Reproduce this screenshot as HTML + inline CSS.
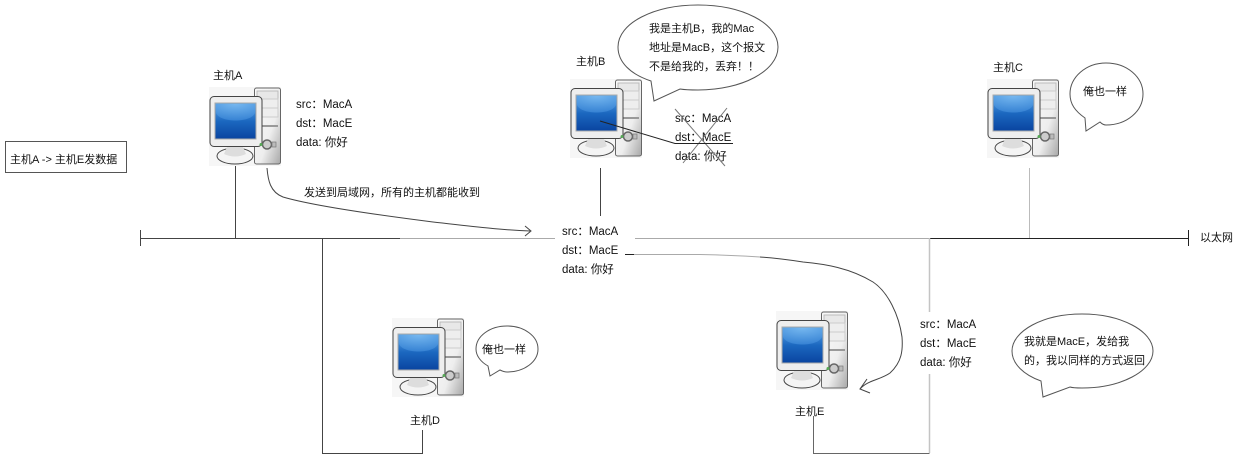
<!DOCTYPE html>
<html><head><meta charset="utf-8">
<style>
html,body{margin:0;padding:0;background:#fff}
svg{display:block}
text{font-family:"Liberation Sans","WenQuanYi Zen Hei","Noto Sans CJK SC",sans-serif;font-size:11px;fill:#111;dominant-baseline:central;transform:translateY(1px)}
text.p{font-size:11.5px}
</style></head><body>
<svg width="1234" height="462" viewBox="0 0 1234 462" xmlns="http://www.w3.org/2000/svg">
<defs>
<linearGradient id="scr" x1="0" y1="0" x2="0" y2="1"><stop offset="0" stop-color="#5fa8e8"/><stop offset=".5" stop-color="#1c68c0"/><stop offset="1" stop-color="#0a44a0"/></linearGradient>
<linearGradient id="tw" x1="0" y1="0" x2="1" y2="1"><stop offset="0" stop-color="#fafafa"/><stop offset=".6" stop-color="#eeeeee"/><stop offset="1" stop-color="#a8a8a8"/></linearGradient>
<radialGradient id="hl" cx=".5" cy="0" r="1"><stop offset="0" stop-color="#7cbcf2"/><stop offset="1" stop-color="#3c88d8"/></radialGradient>
<g id="pc">
<rect width="72" height="79" fill="#f6f6f6"/>
<rect x="45.500" y="1" width="26" height="76" rx="2" fill="url(#tw)" stroke="#666"/>
<rect x="48" y="4" width="21" height="8" fill="#e8e8e8" stroke="#bbb"/>
<rect x="48" y="12" width="21" height="9" fill="#eee" stroke="#ccc"/>
<rect x="48" y="21" width="21" height="9" fill="#eee" stroke="#ccc"/>
<rect x="48" y="38" width="21" height="2" fill="#999"/>
<ellipse cx="26" cy="69" rx="18" ry="8" fill="#f4f4f4" stroke="#444"/>
<path d="M18 60h16l3 7q-11 5-22 0z" fill="#ddd"/>
<rect x="1" y="9.500" width="52" height="50" rx="4" fill="#eee" stroke="#444"/>
<rect x="6" y="16" width="41" height="36" fill="url(#scr)" stroke="#aaa"/>
<path d="M7 17H46V26C42 36 11 36 7 26Z" fill="url(#hl)" opacity=".8"/>
<circle cx="58" cy="57.500" r="4.500" fill="#ccc" stroke="#666" stroke-width="1.500"/>
<circle cx="52" cy="57.500" r="1.500" fill="#5a5"/>
<rect x="63" y="55" width="4" height="5" fill="#bbb" stroke="#777" stroke-width=".7"/>
</g>
</defs>
<rect width="1234" height="462" fill="#fff"/>

<!-- ethernet -->
<g fill="none" stroke-width="1">
<path d="M140 238.500H400M140.500 230V246M322.500 238V453.500H422.500V430M235.500 166V238M600.500 168V216" stroke="#444"/>
<path d="M400 238.500H555M635 238.500H930" stroke="#aaa"/>
<path d="M930 238.500H1188M1188.500 230V246" stroke="#222"/>
<path d="M1029.500 168V238" stroke="#bbb"/>
<path d="M813.500 416V453.500H929.500" stroke="#666"/>
<path d="M929.500 238V312M929.500 374V453" stroke="#c4c4c4" stroke-width="1.500"/>
</g>

<!-- computers -->
<use href="#pc" x="209" y="87"/>
<use href="#pc" x="570" y="79"/>
<use href="#pc" x="987" y="79"/>
<use href="#pc" x="392" y="318"/>
<use href="#pc" x="776" y="311"/>

<!-- labels -->
<text x="213" y="75">主机A</text>
<text x="576" y="61">主机B</text>
<text x="993" y="67">主机C</text>
<text x="410" y="420">主机D</text>
<text x="795" y="411">主机E</text>
<text x="1200" y="237">以太网</text>
<text x="304" y="192">发送到局域网，所有的主机都能收到</text>

<rect x="5.500" y="141.500" width="121" height="31" fill="#fff" stroke="#555"/>
<text x="10" y="159">主机A -&gt; 主机E发数据</text>

<!-- packets -->
<text class="p" x="296" y="104">src：MacA</text><text class="p" x="296" y="123">dst：MacE</text><text class="p" x="296" y="142">data: 你好</text>
<text class="p" x="675" y="118">src：MacA</text><text class="p" x="675" y="137">dst：MacE</text><text class="p" x="675" y="156">data: 你好</text>
<text class="p" x="562" y="231">src：MacA</text><text class="p" x="562" y="250">dst：MacE</text><text class="p" x="562" y="269">data: 你好</text>
<text class="p" x="920" y="324">src：MacA</text><text class="p" x="920" y="343">dst：MacE</text><text class="p" x="920" y="362">data: 你好</text>

<!-- B cross -->
<g fill="none" stroke-width="1">
<path d="M675 109L725 166M727 108L683 163" stroke="#777"/>
<path d="M600 121L675 143.500H733" stroke="#222"/>
</g>

<!-- curved arrows -->
<g fill="none" stroke="#444" stroke-width="1">
<path d="M267 168C268 180 270 192 283 197C310 205 370 214 433 222C470 226 500 230 530 231"/>
<path d="M525 226L531 231L525 236"/>
<path d="M625 254.500H634" stroke="#222"/>
<path d="M634 254.500H700C725 255 745 256 760 257" stroke="#aaa"/>
<path d="M760 257C775 258 790 260 803 262C825 264 850 268 873 282C888 292 899 315 902 337C903 350 902 362 890 373C880 380 868 380 860 389"/>
<path d="M867 379L860 389L870 393"/>
</g>

<!-- bubbles -->
<g fill="#fff" stroke="#555" stroke-width="1">
<path d="M651 81C630 74 618 62 618 47C618 23 654 5 698 5C742 5 778 23 778 47C778 71 742 90 698 90C692 90 686 90 680 89L654 101Z"/>
<path d="M1085 118C1075 111 1070 104 1070 94C1070 77 1086 63 1106 63C1127 63 1143 77 1143 94C1143 111 1127 125 1106 125C1104 125 1102 124 1100 122L1086 131Z"/>
<path d="M488 366C481 362 476 356 476 349C476 336 490 326 507 326C524 326 538 336 538 349C538 362 524 372 507 372C505 372 502 371 500 370L490 376Z"/>
<path d="M1041 381C1024 375 1012 364 1012 351C1012 331 1043 314 1082 314C1121 314 1153 331 1153 351C1153 371 1121 388 1082 388C1077 388 1073 388 1070 387L1043 397Z"/>
</g>
<text x="649" y="28">我是主机B，我的Mac</text>
<text x="649" y="47">地址是MacB，这个报文</text>
<text x="649" y="66">不是给我的，丢弃！！</text>
<text x="1083" y="91">俺也一样</text>
<text x="482" y="349">俺也一样</text>
<text x="1024" y="341">我就是MacE，发给我</text>
<text x="1024" y="360">的，我以同样的方式返回</text>
</svg>
</body></html>
